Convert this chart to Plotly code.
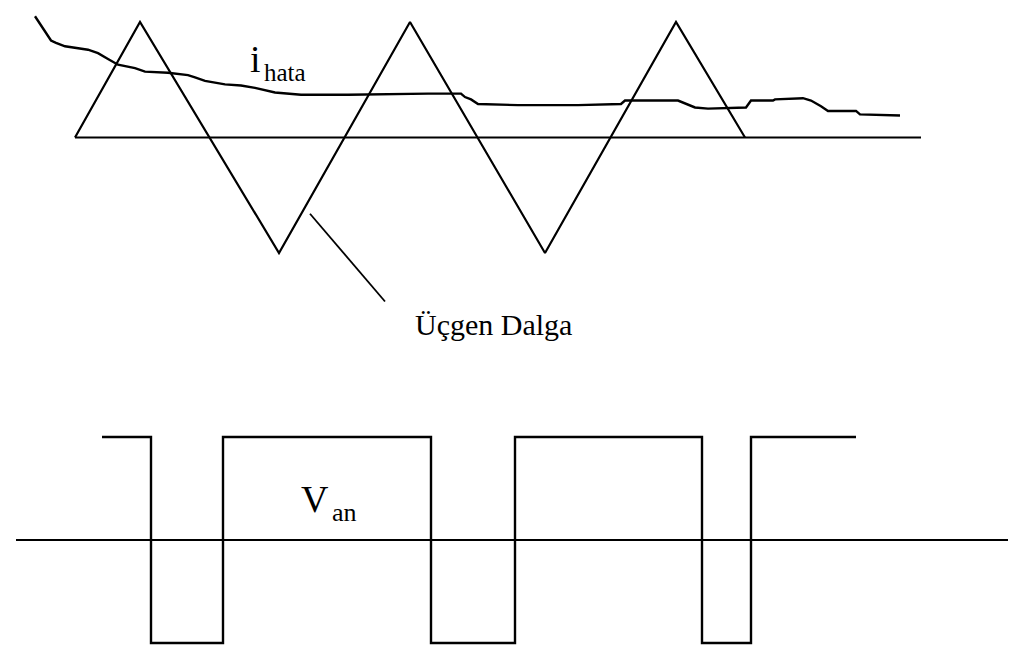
import plotly.graph_objects as go

# ---- data ----
# triangle carrier (top panel), amplitude units (peak = 1)
tri_t = [67, 132, 271, 402, 537, 668, 737]
tri_v = [0, 1, -1, 1, -1, 1, 0]

# error current i_hata (top panel), same units
err_t = [27, 43, 48, 57, 80, 90, 100, 110, 127, 137, 160, 180, 187, 197, 217, 233,
         247, 267, 293, 340, 420, 453, 457, 463, 470, 510, 570, 613, 617, 670, 687,
         700, 738, 743, 765, 767, 795, 803, 813, 820, 848, 852, 892]
err_v = [1.05, 0.84, 0.82, 0.79, 0.76, 0.73, 0.68, 0.63, 0.60, 0.57, 0.56, 0.54, 0.52,
         0.49, 0.46, 0.45, 0.43, 0.39, 0.37, 0.37, 0.38, 0.38, 0.35, 0.33, 0.29, 0.28,
         0.28, 0.29, 0.32, 0.32, 0.26, 0.25, 0.26, 0.32, 0.32, 0.33, 0.34, 0.32, 0.27,
         0.23, 0.23, 0.20, 0.19]

top_axis_t = [67, 913]

# output voltage V_an (bottom panel), switching instants and levels
van_t = [94, 143, 215, 423, 507, 694, 743, 848]
van_v = [1, -1, 1, -1, 1, -1, 1, 1]
bot_axis_t = [8, 1010]

pointer_t = [302, 377]
pointer_v = [-0.66, -1.42]

# ---- figure ----
line = dict(color="black", width=2.2)
fig = go.Figure()
fig.add_trace(go.Scatter(x=top_axis_t, y=[0, 0], mode="lines", line=line, yaxis="y"))
fig.add_trace(go.Scatter(x=tri_t, y=tri_v, mode="lines", line=line, yaxis="y"))
fig.add_trace(go.Scatter(x=err_t, y=err_v, mode="lines", line=dict(color="black", width=2.4), yaxis="y"))
fig.add_trace(go.Scatter(x=pointer_t, y=pointer_v, mode="lines", line=dict(color="black", width=1.8), yaxis="y"))
fig.add_trace(go.Scatter(x=bot_axis_t, y=[0, 0], mode="lines", line=line, yaxis="y2"))
fig.add_trace(go.Scatter(x=van_t, y=van_v, mode="lines", line=dict(color="black", width=2.4, shape="hv"), yaxis="y2"))

serif = "Liberation Serif"
fig.add_annotation(x=247, y=0.683, xref="x", yref="y", text="i", showarrow=False,
                   font=dict(family=serif, size=38, color="black"), xanchor="center", yanchor="middle")
fig.add_annotation(x=254, y=0.563, xref="x", yref="y", text="hata", showarrow=False,
                   font=dict(family=serif, size=25, color="black"), xanchor="left", yanchor="middle")
fig.add_annotation(x=405, y=-1.615, xref="x", yref="y", text="Üçgen Dalga", showarrow=False,
                   font=dict(family=serif, size=30, color="black"), xanchor="left", yanchor="middle")
fig.add_annotation(x=307, y=0.40, xref="x", yref="y2", text="V", showarrow=False,
                   font=dict(family=serif, size=38, color="black"), xanchor="center", yanchor="middle")
fig.add_annotation(x=322, y=0.27, xref="x", yref="y2", text="an", showarrow=False,
                   font=dict(family=serif, size=26, color="black"), xanchor="left", yanchor="middle")

ax = dict(visible=False, showgrid=False, zeroline=False, fixedrange=True)
fig.update_layout(
    width=1016, height=659,
    margin=dict(l=0, r=0, t=0, b=0),
    paper_bgcolor="white", plot_bgcolor="white",
    showlegend=False,
    xaxis=dict(range=[0, 1016], **ax),
    yaxis=dict(range=[-1.9, 1.1], domain=[0.4705, 0.9963], **ax),
    yaxis2=dict(range=[-1.15, 1.15], domain=[0.01297, 0.37246], **ax),
)
fig.write_html("out.html")
